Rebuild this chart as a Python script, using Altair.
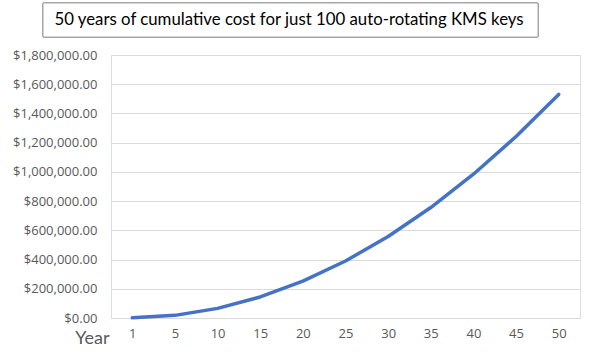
import altair as alt
import pandas as pd

years = ["1", "5", "10", "15", "20", "25", "30", "35", "40", "45", "50"]
cost = [1200, 18000, 66000, 144000, 252000, 390000, 558000, 756000, 984000, 1242000, 1530000]
title_text = "50 years of cumulative cost for just 100 auto-rotating KMS keys"
y_ticks = [0, 200000, 400000, 600000, 800000, 1000000, 1200000, 1400000, 1600000, 1800000]

df = pd.DataFrame({"Year": years, "Cost": cost})
FONT = "Open Sans"
TFONT = "Lato"
GRAY = "#595959"

line = alt.Chart(df).mark_line(color="#4472C4", strokeWidth=3.5, strokeCap="round", strokeJoin="round").encode(
    x=alt.X("Year:O", sort=years,
            scale=alt.Scale(type="point", padding=0.5),
            axis=alt.Axis(title="Year", labelAngle=0, ticks=False, domain=False, grid=False,
                          labelFont=FONT, labelFontSize=13, labelColor=GRAY, labelPadding=9,
                          titleFont=TFONT, titleFontSize=18, titleFontWeight="normal", titleColor=GRAY,
                          titleAngle=0, titleAlign="right", titleBaseline="middle", titleX=-2, titleY=20)),
    y=alt.Y("Cost:Q", scale=alt.Scale(domain=[0, 1800000], nice=False),
            axis=alt.Axis(title=None, values=y_ticks, format="$,.2f", ticks=False, domain=False,
                          grid=True, gridColor="#d9d9d9", gridWidth=1,
                          labelFont=FONT, labelFontSize=13, labelColor=GRAY, labelPadding=14)),
)

box = alt.Chart(df).mark_rect(fill="white", stroke="#a6a6a6", strokeWidth=1).encode(
    x=alt.value(-68), x2=alt.value(427), y=alt.value(-52), y2=alt.value(-18)
)
ttl = alt.Chart(pd.DataFrame({"t": [title_text]})).mark_text(
    font=TFONT, fontSize=16.8, color="#000000", align="center", baseline="middle"
).encode(text="t:N", x=alt.value(178), y=alt.value(-35))

chart = alt.layer(line, box, ttl).properties(
    width=469, height=263,
    autosize=alt.AutoSizeParams(type="none"),
    padding={"left": 111, "top": 55, "right": 15, "bottom": 38},
).configure_view(stroke=None).configure(background="white")

chart.save("out.html", embed_options={"renderer": "svg", "actions": False})
